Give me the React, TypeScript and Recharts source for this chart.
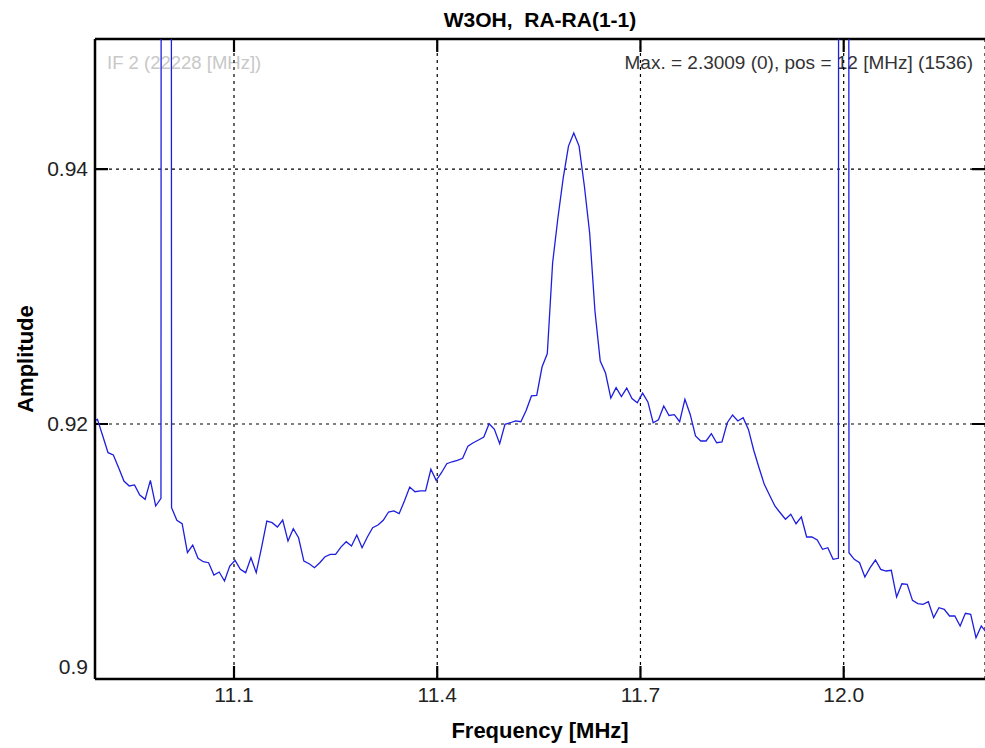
import { LineChart, Line, XAxis, YAxis, CartesianGrid, ReferenceLine } from 'recharts'

// spectrum channels: 128 channels per MHz, first visible channel below
const CHANNEL_START = 1394
const CHANNEL_WIDTH = 1 / 128

const amplitude = [
  0.92018, 0.92037, 0.91906, 0.91775, 0.91757, 0.91657, 0.91553, 0.91514, 0.91522, 0.91443,
  0.91409, 0.91558, 0.91357, 0.91417, 2.1, 0.91344, 0.91245, 0.91218, 0.90991, 0.91051,
  0.90947, 0.9092, 0.90912, 0.90816, 0.90839, 0.90769, 0.90886, 0.90931, 0.9086, 0.90834,
  0.90951, 0.90834, 0.9103, 0.91239, 0.91226, 0.91192, 0.91247, 0.91082, 0.91179, 0.91108,
  0.90925, 0.90904, 0.90873, 0.90912, 0.90959, 0.90978, 0.90978, 0.91035, 0.91077, 0.91043,
  0.91129, 0.9103, 0.91114, 0.91187, 0.91208, 0.91245, 0.9131, 0.91318, 0.91297, 0.91396,
  0.91506, 0.91469, 0.91475, 0.91475, 0.91645, 0.91558, 0.91618, 0.91689, 0.91704, 0.91715,
  0.91731, 0.91827, 0.91853, 0.91875, 0.91898, 0.92002, 0.91958, 0.91846, 0.91998, 0.9201,
  0.92024, 0.92018, 0.92106, 0.9222, 0.92225, 0.92447, 0.92553, 0.93263, 0.93616, 0.93929,
  0.9418, 0.94282, 0.9418, 0.93867, 0.93498, 0.92886, 0.92494, 0.924, 0.92204, 0.92285,
  0.92216, 0.92282, 0.922, 0.92167, 0.92242, 0.92173, 0.9201, 0.92033, 0.92141, 0.92067,
  0.92073, 0.92018, 0.92194, 0.92075, 0.91906, 0.91867, 0.91867, 0.91924, 0.91853, 0.91859,
  0.9201, 0.92071, 0.92024, 0.92049, 0.91958, 0.91794, 0.91657, 0.91527, 0.91441, 0.91357,
  0.91304, 0.91253, 0.91292, 0.91218, 0.91271, 0.91114, 0.91114, 0.9109, 0.91017, 0.9103,
  0.90939, 0.90947, 2.3009, 0.90991, 0.90939, 0.90912, 0.908, 0.90873, 0.90933, 0.9086,
  0.90847, 0.90853, 0.90643, 0.90747, 0.90743, 0.90617, 0.90591, 0.90586, 0.90606, 0.90481,
  0.90559, 0.90547, 0.90494, 0.90494, 0.90416, 0.90515, 0.90507, 0.90324, 0.90416, 0.90363,
]

const freqTicks = [11.1, 11.4, 11.7, 12.0]
const ampTicks = [0.9, 0.92, 0.94]
const FREQ_DOMAIN = [10.8948, 12.2086]
const AMP_DOMAIN = [0.9, 0.9502]

const data = amplitude.map((amp, i) => ({
  freq: (CHANNEL_START + i) * CHANNEL_WIDTH,
  amp,
}))

const FONT = '"Liberation Sans", Arial, sans-serif'
const TICK = 13
const axisLineStyle = { stroke: '#000', strokeWidth: 2.5 }

// draws only the two inward tick marks at the ends of a grid position
const tickEnds = (p: any) => {
  const { x1, y1, x2, y2 } = p
  const vertical = Math.abs(x1 - x2) < 0.5
  const d = vertical
    ? `M${x1},${Math.max(y1, y2)}v${-TICK}M${x1},${Math.min(y1, y2)}v${TICK}`
    : `M${Math.min(x1, x2)},${y1}h${TICK}M${Math.max(x1, x2)},${y1}h${-TICK}`
  return <path d={d} stroke="#000" strokeWidth={2.2} fill="none" />
}

const bottomTick = ({ x, y, payload }: any) => (
  <text x={x} y={y + 23} textAnchor="middle" fontSize={21} fontFamily={FONT} fill="#222">
    {Number(payload.value).toFixed(1)}
  </text>
)

const leftTick = ({ x, y, payload }: any) => {
  const bottom = payload.value === ampTicks[0]
  return (
    <text x={x - 7} y={bottom ? y - 5 : y + 7} textAnchor="end" fontSize={21} fontFamily={FONT} fill="#222">
      {payload.value}
    </text>
  )
}

export default function App() {
  return (
    <div style={{ position: 'absolute', left: 0, top: 0, width: 985, height: 748, background: '#fff' }}>
      <svg width={985} height={748} style={{ position: 'absolute', left: 0, top: 0 }}>
        <text x={540} y={27} textAnchor="middle" fontSize={21} fontWeight="bold" fontFamily={FONT} fill="#000">
          {'W3OH,\u00a0 RA-RA(1-1)'}
        </text>
        <text x={107} y={69} fontSize={18.5} fontFamily={FONT} fill="#c8c8c8">
          IF 2 (22228 [MHz])
        </text>
        <text x={973} y={69} textAnchor="end" fontSize={19} fontFamily={FONT} fill="#333">
          Max. = 2.3009 (0), pos = 12 [MHz] (1536)
        </text>
        <text x={540} y={738} textAnchor="middle" fontSize={22} fontWeight="bold" fontFamily={FONT} fill="#000">
          Frequency [MHz]
        </text>
        <text
          x={0}
          y={0}
          transform="translate(33 359) rotate(-90)"
          textAnchor="middle"
          fontSize={22}
          fontWeight="bold"
          fontFamily={FONT}
          fill="#000"
        >
          Amplitude
        </text>
      </svg>
      <div style={{ position: 'absolute', left: 0, top: 0 }}>
        <LineChart width={985} height={748} data={data} margin={{ top: 39, right: 0, bottom: 0, left: 0 }}>
          <CartesianGrid stroke="#000" strokeDasharray="3 4" strokeWidth={1.2} />
          <XAxis
            dataKey="freq"
            type="number"
            domain={FREQ_DOMAIN}
            allowDataOverflow
            ticks={freqTicks}
            height={69}
            tickSize={0}
            tickMargin={0}
            tickLine={false}
            axisLine={axisLineStyle}
            tick={bottomTick}
          />
          <YAxis
            type="number"
            domain={AMP_DOMAIN}
            allowDataOverflow
            ticks={ampTicks}
            width={95}
            tickSize={0}
            tickMargin={0}
            tickLine={false}
            axisLine={axisLineStyle}
            tick={leftTick}
          />
          {/* top edge of the box */}
          <ReferenceLine y={AMP_DOMAIN[1]} stroke="#000" strokeWidth={2.5} ifOverflow="visible" />
          {freqTicks.map((f) => (
            <ReferenceLine key={`xt-${f}`} x={f} shape={tickEnds} />
          ))}
          {ampTicks.slice(1).map((a) => (
            <ReferenceLine key={`yt-${a}`} y={a} shape={tickEnds} />
          ))}
          <Line
            type="linear"
            dataKey="amp"
            stroke="#1e1ede"
            strokeWidth={1.3}
            dot={false}
            activeDot={false}
            isAnimationActive={false}
          />
        </LineChart>
      </div>
    </div>
  )
}
